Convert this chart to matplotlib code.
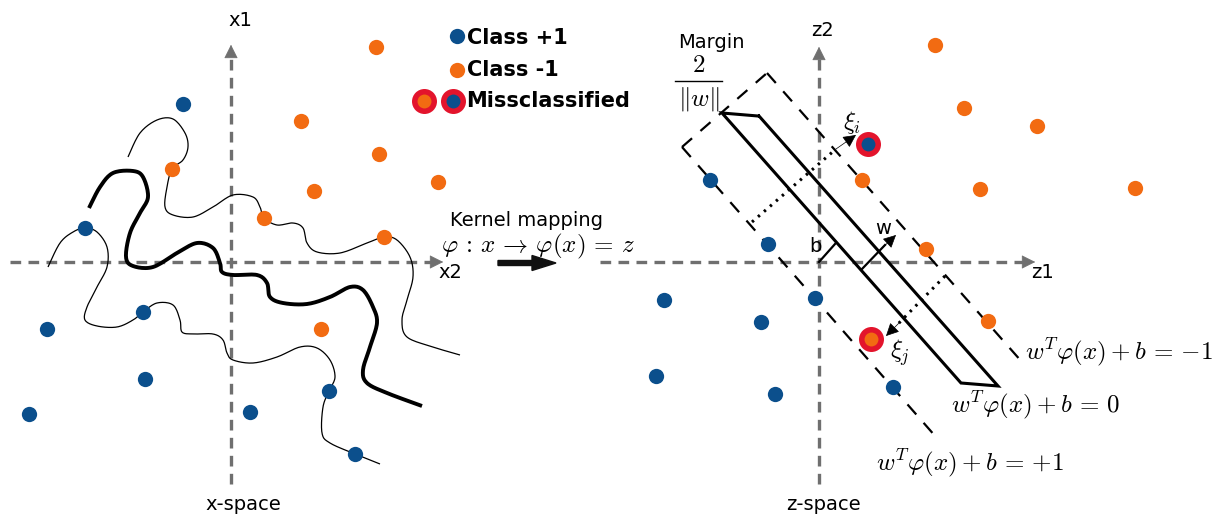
import numpy as np
import matplotlib
matplotlib.use("Agg")
import matplotlib.pyplot as plt
from matplotlib.patches import FancyArrow

plt.rcParams['mathtext.fontset'] = 'cm'
plt.rcParams['font.family'] = ['DejaVu Sans']

BLUE = "#0b4f8c"
ORANGE = "#f26b12"
RED = "#e3142c"
GRAY = "#6f6f6f"

# x-space samples (pixel layout coordinates)
x_blue_x = [183, 85, 143, 47, 145, 29, 250, 329, 355]
x_blue_y = [104, 228, 312, 329, 379, 414, 412, 391, 454]
x_orange_x = [376, 301, 379, 314, 172, 264, 384, 321, 438]
x_orange_y = [47, 121, 154, 191, 169, 218, 237, 329, 182]

# z-space samples
z_blue_x = [710, 768, 664, 815, 761, 656, 775, 893]
z_blue_y = [180, 244, 300, 298, 322, 376, 394, 387]
z_orange_x = [935, 964, 1037, 862, 980, 926, 988, 1135]
z_orange_y = [45, 108, 126, 180, 189, 249, 321, 188]
mis_blue = (868, 144)
mis_orange = (871, 339)

# decision boundary in x-space (thick) and two thin margin curves
bound_x = [89, 100, 113, 133, 143, 148, 140, 130, 126, 133, 153, 177, 197, 213, 220, 222,
           233, 257, 267, 270, 283, 307, 330, 350, 363, 373, 377, 370, 363, 367, 387, 422]
bound_y = [208, 187, 173, 171, 177, 197, 213, 233, 257, 266, 267, 253, 243, 248, 263, 272,
           275, 275, 283, 297, 303, 304, 297, 287, 290, 307, 323, 347, 370, 383, 393, 406]
upper_x = [128, 140, 157, 173, 185, 188, 183, 172, 167, 165, 173, 193, 213, 233, 253, 260, 264,
           277, 293, 303, 307, 317, 340, 367, 384, 397, 410, 413, 407, 402, 407, 433, 460]
upper_y = [157, 133, 120, 119, 133, 147, 160, 169, 187, 207, 215, 217, 207, 195, 197, 207, 218,
           225, 223, 228, 243, 252, 253, 243, 237, 240, 257, 277, 300, 320, 337, 347, 355]
lower_x = [48, 60, 73, 85, 97, 107, 107, 97, 87, 85, 97, 117, 133, 143, 157, 173, 180, 182,
           193, 213, 223, 227, 233, 253, 277, 300, 317, 330, 335, 329, 323, 322, 330, 355, 380]
lower_y = [267, 243, 232, 228, 232, 247, 267, 287, 307, 320, 326, 327, 320, 312, 303, 305, 320, 332,
           334, 334, 340, 353, 360, 363, 357, 347, 348, 360, 377, 391, 407, 433, 443, 454, 464]


def smooth(xs, ys, n=12):
    # Catmull-Rom spline through the control points
    p = np.column_stack([xs, ys]).astype(float)
    p = np.vstack([p[0], p, p[-1]])
    out = []
    for i in range(1, len(p) - 2):
        p0, p1, p2, p3 = p[i - 1], p[i], p[i + 1], p[i + 2]
        for t in np.linspace(0, 1, n, endpoint=False):
            t2, t3 = t * t, t * t * t
            out.append(0.5 * ((2 * p1) + (-p0 + p2) * t + (2 * p0 - 5 * p1 + 4 * p2 - p3) * t2
                              + (-p0 + 3 * p1 - 3 * p2 + p3) * t3))
    out.append(p[-2])
    out = np.array(out)
    return out[:, 0], out[:, 1]


def axis_arrow(ax, start, tip):
    sx, sy = start
    tx, ty = tip
    d = np.hypot(tx - sx, ty - sy)
    ux, uy = (tx - sx) / d, (ty - sy) / d
    ax.plot([sx, tx - 14 * ux], [sy, ty - 14 * uy], color=GRAY, lw=2.4,
            dashes=(3.2, 2.2), zorder=1)
    ax.annotate('', xy=tip, xytext=(tx - 16 * ux, ty - 16 * uy),
                arrowprops=dict(arrowstyle='-|>', color=GRAY, lw=0.5, mutation_scale=22), zorder=1)


def small_arrow(ax, start, tip):
    ax.annotate('', xy=tip, xytext=start,
                arrowprops=dict(arrowstyle='-|>', color='black', lw=0.5, mutation_scale=20,
                                shrinkA=0, shrinkB=0), zorder=4)


fig = plt.figure(figsize=(12.27, 5.17), dpi=100)
ax = fig.add_axes([0, 0, 1, 1])
ax.set_xlim(0, 1227)
ax.set_ylim(517, 0)
ax.axis('off')

# ---- x-space ----
axis_arrow(ax, (231, 484), (231, 42))
axis_arrow(ax, (10, 262), (446, 262))
ax.text(240, 20, "x1", fontsize=14, ha='center', va='center')
ax.text(450, 273, "x2", fontsize=14, ha='center', va='center')
ax.text(243, 505, "x-space", fontsize=14, ha='center', va='center')

for cx, cy, lw in [(bound_x, bound_y, 2.8), (upper_x, upper_y, 0.9), (lower_x, lower_y, 0.9)]:
    sx, sy = smooth(cx, cy)
    ax.plot(sx, sy, color='black', lw=lw, solid_capstyle='butt', zorder=2)

ax.plot(x_blue_x, x_blue_y, 'o', color=BLUE, ms=11, mec='none', zorder=5)
ax.plot(x_orange_x, x_orange_y, 'o', color=ORANGE, ms=11, mec='none', zorder=5)

# ---- legend ----
ax.plot([457], [36], 'o', color=BLUE, ms=11, mec='none')
ax.plot([457], [70], 'o', color=ORANGE, ms=11, mec='none')
ax.plot([424, 453], [101, 101], 'o', color=RED, ms=18, mec='none')
ax.plot([424], [101], 'o', color=ORANGE, ms=10, mec='none')
ax.plot([453], [101], 'o', color=BLUE, ms=10, mec='none')
ax.text(467, 38, "Class +1", fontsize=15, fontweight='bold', va='center')
ax.text(467, 70, "Class -1", fontsize=15, fontweight='bold', va='center')
ax.text(466, 101, "Missclassified", fontsize=15, fontweight='bold', va='center')

# ---- kernel mapping ----
ax.text(450, 220, "Kernel mapping", fontsize=14, va='center')
ax.text(441, 246, r"$\varphi\,:\,x\,\rightarrow\,\varphi(x)\,=\,z$", fontsize=18, va='center')
ax.add_patch(FancyArrow(498, 263, 58, 0, width=5, head_width=15, head_length=24,
                        length_includes_head=True, color='#111111', zorder=3))

# ---- z-space ----
axis_arrow(ax, (819, 484), (819, 44))
axis_arrow(ax, (600, 262), (1038, 262))
ax.text(822, 30, "z2", fontsize=14, ha='center', va='center')
ax.text(1042, 273, "z1", fontsize=14, ha='center', va='center')
ax.text(823, 505, "z-space", fontsize=14, ha='center', va='center')

# margin lines and box
dash = dict(color='black', lw=1.6, dashes=(6, 5), zorder=2)
ax.plot([682, 936], [147, 437], **dash)
ax.plot([767, 1022], [73, 362], **dash)
ax.plot([682, 767], [147, 73], **dash)

# separating slab
solid = dict(color='black', lw=2.2, solid_joinstyle='miter', zorder=3)
ax.plot([758, 722, 961, 998, 759], [116, 113, 383, 386, 116], **solid)

# margin width and slack arrows
dot = dict(color='black', lw=2.2, dashes=(0.8, 1.8), zorder=3)
ax.plot([752, 836], [222, 149], **dot)
small_arrow(ax, (836, 149), (856, 135))
ax.plot([945, 898], [276, 324], **dot)
small_arrow(ax, (900, 322), (886, 336))

# offset b and normal w
ax.plot([819, 835], [262, 244], color='black', lw=1.6, zorder=3)
ax.plot([862, 885], [269, 245], color='black', lw=1.6, zorder=3)
small_arrow(ax, (880, 250), (896, 235))

ax.plot(z_blue_x, z_blue_y, 'o', color=BLUE, ms=11, mec='none', zorder=5)
ax.plot(z_orange_x, z_orange_y, 'o', color=ORANGE, ms=11, mec='none', zorder=5)
ax.plot([mis_blue[0], mis_orange[0]], [mis_blue[1], mis_orange[1]], 'o', color=RED, ms=18,
        mec='none', zorder=5)
ax.plot([mis_blue[0]], [mis_blue[1]], 'o', color=BLUE, ms=10, mec='none', zorder=6)
ax.plot([mis_orange[0]], [mis_orange[1]], 'o', color=ORANGE, ms=10, mec='none', zorder=6)

# annotations
ax.text(711, 43, "Margin", fontsize=14, ha='center', va='center')
ax.text(699, 65, r"$2$", fontsize=18, ha='center', va='center')
ax.plot([675, 722], [81, 81], color='black', lw=1.0)
ax.text(699, 99, r"$\|w\|$", fontsize=18, ha='center', va='center')
ax.text(852, 122, r"$\xi_i$", fontsize=18, ha='center', va='center')
ax.text(900, 353, r"$\xi_j$", fontsize=18, ha='center', va='center')
ax.text(883, 228, "w", fontsize=14, ha='center', va='center')
ax.text(815, 246, "b", fontsize=14, ha='center', va='center')
ax.text(1025, 352, r"$w^T\varphi(x) + b\,=\,{-1}$", fontsize=18, va='center')
ax.text(951, 405, r"$w^T\varphi(x) + b\,=\,0$", fontsize=18, va='center')
ax.text(876, 463, r"$w^T\varphi(x) + b\,=\,{+1}$", fontsize=18, va='center')

fig.savefig("out.png", dpi=100)
